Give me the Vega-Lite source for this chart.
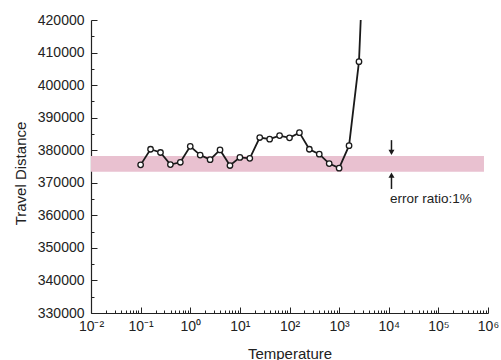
{
  "$schema": "https://vega.github.io/schema/vega-lite/v6.json",
  "width": 397,
  "height": 293,
  "autosize": {"type": "none"},
  "padding": {"left": 91, "top": 20, "right": 13, "bottom": 47},
  "background": "white",
  "config": {
    "view": {"stroke": null},
    "font": "Liberation Sans",
    "axis": {"labelFont": "Liberation Sans", "titleFont": "Liberation Sans", "domainColor": "#222", "tickColor": "#222", "labelColor": "#222", "titleColor": "#222", "titleFontWeight": "normal", "grid": false}
  },
  "datasets": {
    "pts": [
      {"x": 0.1, "y": 375500},
      {"x": 0.1585, "y": 380300},
      {"x": 0.2512, "y": 379300},
      {"x": 0.3981, "y": 375600},
      {"x": 0.631, "y": 376300},
      {"x": 1, "y": 381200},
      {"x": 1.585, "y": 378500},
      {"x": 2.512, "y": 377100},
      {"x": 3.981, "y": 380100},
      {"x": 6.31, "y": 375300},
      {"x": 10, "y": 377800},
      {"x": 15.85, "y": 377500},
      {"x": 25.12, "y": 383900},
      {"x": 39.81, "y": 383400},
      {"x": 63.1, "y": 384500},
      {"x": 100, "y": 383800},
      {"x": 158.5, "y": 385400},
      {"x": 251.2, "y": 380300},
      {"x": 398.1, "y": 378800},
      {"x": 631, "y": 375900},
      {"x": 1000, "y": 374500},
      {"x": 1585, "y": 381400},
      {"x": 2512, "y": 407200},
      {"x": 3981, "y": 480000}
    ]
  },
  "encoding": {
    "x": {"field": "x", "type": "quantitative", "title": "Temperature", "scale": {"type": "log", "domain": [0.01, 1000000], "nice": false},
      "axis": {
        "values": [0.01,0.02,0.03,0.04,0.05,0.06,0.07,0.08,0.09,0.1,0.2,0.3,0.4,0.5,0.6,0.7,0.8,0.9,1,2,3,4,5,6,7,8,9,10,20,30,40,50,60,70,80,90,100,200,300,400,500,600,700,800,900,1000,2000,3000,4000,5000,6000,7000,8000,9000,10000,20000,30000,40000,50000,60000,70000,80000,90000,100000,200000,300000,400000,500000,600000,700000,800000,900000,1000000],
        "labelExpr": "abs(log(datum.value)/LN10 - round(log(datum.value)/LN10)) < 0.001 ? '10' + ['⁻²','⁻¹','⁰','¹','²','³','⁴','⁵','⁶'][round(log(datum.value)/LN10)+2] : ''",
        "labelFontSize": 14,
        "labelPadding": 12,
        "labelOverlap": false,
        "labelFlush": false,
        "labelBound": false,
        "tickSize": {"condition": {"test": "abs(log(datum.value)/LN10 - round(log(datum.value)/LN10)) < 0.001", "value": -6}, "value": -3},
        "tickWidth": 1,
        "domainWidth": 1.2,
        "titleFontSize": 15,
        "titleBaseline": "alphabetic",
        "titleY": 45
      }
    },
    "y": {"field": "y", "type": "quantitative", "title": "Travel Distance", "scale": {"domain": [330000, 420000], "nice": false, "zero": false},
      "axis": {
        "values": [330000,335000,340000,345000,350000,355000,360000,365000,370000,375000,380000,385000,390000,395000,400000,405000,410000,415000,420000],
        "format": "d",
        "labelExpr": "datum.value % 10000 == 0 ? datum.label : ''",
        "labelFontSize": 14,
        "labelPadding": 13,
        "labelOverlap": false,
        "labelFlush": false,
        "labelBound": false,
        "tickSize": {"condition": {"test": "datum.value % 10000 == 0", "value": -6}, "value": -3},
        "domainWidth": 1.2,
        "titleFontSize": 15,
        "titleAlign": "center",
        "titleBaseline": "middle",
        "titleAngle": -90,
        "titleX": -71,
        "titleY": 153
      }
    }
  },
  "layer": [
    {
      "data": {"values": [{"x": 0.01, "x2": 830000, "y": 373400, "y2": 378200}]},
      "mark": {"type": "rect", "color": "#E9C1D0"},
      "encoding": {
        "x2": {"field": "x2"},
        "y2": {"field": "y2"}
      }
    },
    {
      "data": {"name": "pts"},
      "mark": {"type": "line", "color": "#1a1a1a", "strokeWidth": 1.8, "clip": true}
    },
    {
      "data": {"name": "pts"},
      "mark": {"type": "point", "shape": "circle", "filled": true, "fill": "white", "stroke": "#1a1a1a", "strokeWidth": 1.3, "size": 30, "opacity": 1, "clip": true}
    },
    {
      "data": {"values": [{"x": 11350, "y": 383100, "y2": 379700}, {"x": 11350, "y": 372000, "y2": 368100}]},
      "mark": {"type": "rule", "color": "#1a1a1a", "strokeWidth": 1.5},
      "encoding": {
        "y2": {"field": "y2"}
      }
    },
    {
      "data": {"values": [{"x": 11350, "y": 379330, "dir": "triangle-down"}, {"x": 11350, "y": 372350, "dir": "triangle-up"}]},
      "mark": {"type": "point", "filled": true, "color": "#1a1a1a", "size": 36, "opacity": 1},
      "encoding": {
        "shape": {"field": "dir", "type": "nominal", "scale": null, "legend": null}
      }
    },
    {
      "data": {"values": [{"x": 10593, "y": 363870, "label": "error ratio:1%"}]},
      "mark": {"type": "text", "align": "left", "baseline": "alphabetic", "fontSize": 13.5, "font": "Liberation Sans", "color": "#222"},
      "encoding": {
        "text": {"field": "label"}
      }
    }
  ]
}
